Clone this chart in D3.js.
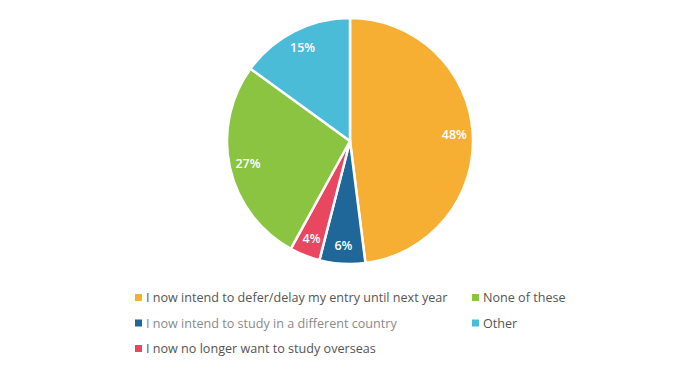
<!DOCTYPE html>
<html>
<head>
<meta charset="utf-8">
<script src="https://cdn.jsdelivr.net/npm/d3@7"></script>
<style>
  body { margin: 0; background: #fff; }
  svg { display: block; font-family: "Open Sans", sans-serif; }
</style>
</head>
<body>
<svg id="chart" width="693" height="377"></svg>
<script>
// answers, in drawing order (clockwise from 12 o'clock)
const categories = [
  "I now intend to defer/delay my entry until next year",
  "I now intend to study in a different country",
  "I now no longer want to study overseas",
  "None of these",
  "Other"
];
const values = [48, 6, 4, 27, 15];
const colors = ["#f6af33", "#1f6699", "#e8475f", "#8bc440", "#4bbcd8"];

// legend is laid out in two columns, filled row by row
const legendOrder = [0, 3, 1, 4, 2];

const width = 693, height = 377;
const cx = 350, cy = 141, radius = 123;

const svg = d3.select("#chart");

const data = categories.map((c, i) => ({ name: c, value: values[i], color: colors[i] }));

const pie = d3.pie().sort(null).value(d => d.value);
const arc = d3.arc().innerRadius(0).outerRadius(radius);
const labelArc = d3.arc().innerRadius(radius * 0.85).outerRadius(radius * 0.85);

const g = svg.append("g").attr("transform", `translate(${cx},${cy})`);
const arcs = pie(data);

g.selectAll("path.slice")
  .data(arcs)
  .enter()
  .append("path")
  .attr("class", "slice")
  .attr("d", arc)
  .attr("fill", d => d.data.color)
  .attr("stroke", "#fff")
  .attr("stroke-width", 2.5)
  .attr("stroke-linejoin", "round");

g.selectAll("text.lbl")
  .data(arcs)
  .enter()
  .append("text")
  .attr("class", "lbl")
  .attr("transform", d => `translate(${labelArc.centroid(d)})`)
  .attr("text-anchor", "middle")
  .attr("dy", "0.35em")
  .attr("fill", "#fff")
  .attr("font-size", 12.5)
  .attr("font-weight", 600)
  .text(d => d.data.value + "%");

// legend
const colX = [135, 472];
const rowY = d3.scaleLinear().domain([0, 1]).range([298, 323.5]);

const legend = svg.append("g").attr("class", "legend");
const items = legend.selectAll("g.item")
  .data(legendOrder.map(i => data[i]))
  .enter()
  .append("g")
  .attr("class", "item")
  .attr("transform", (d, i) => `translate(${colX[i % 2]},${rowY(Math.floor(i / 2))})`);

items.append("rect")
  .attr("x", 0)
  .attr("y", -4)
  .attr("width", 7)
  .attr("height", 7)
  .attr("fill", d => d.color);

items.append("text")
  .attr("x", 11)
  .attr("y", 0)
  .attr("dy", "0.35em")
  .attr("font-size", 12.6)
  .attr("fill", d => d.name === categories[1] ? "#8a8a8a" : "#555")
  .text(d => d.name);
</script>
</body>
</html>
